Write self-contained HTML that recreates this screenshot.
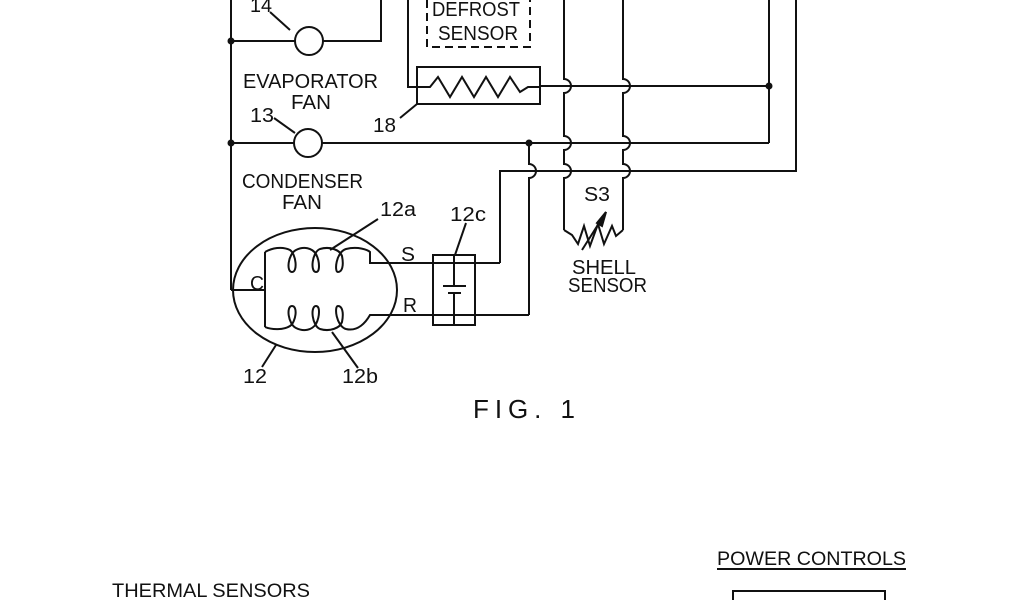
<!DOCTYPE html>
<html><head><meta charset="utf-8"><style>
html,body{margin:0;padding:0;background:#fff;}
svg{display:block;}
text{font-family:"Liberation Sans",sans-serif;fill:#111;}
</style></head><body>
<svg width="1024" height="600" viewBox="0 0 1024 600" xmlns="http://www.w3.org/2000/svg">
<g stroke="#111" stroke-width="2" fill="none">
<line x1="231" y1="0" x2="231" y2="290"/>
<line x1="231" y1="41" x2="295" y2="41"/>
<circle cx="309" cy="41" r="14"/>
<polyline points="323,41 381,41 381,0"/>
<line x1="290" y1="30" x2="270" y2="12"/>
<path d="M427,0 L427,47 L530,47 L530,0" stroke-dasharray="8,5"/>
<polyline points="408,0 408,87 417,87"/>
<rect x="417" y="67" width="123" height="37"/>
<polyline points="417,87 430,87 438,77 450,97 462,77 474,97 486,77 498,97 510,77 520,92 528,87 540,87"/>
<line x1="417" y1="104" x2="400" y2="118"/>
<line x1="540" y1="86" x2="769" y2="86"/>
<line x1="769" y1="0" x2="769" y2="143"/>
<line x1="231" y1="143" x2="294" y2="143"/>
<circle cx="308" cy="143" r="14"/>
<line x1="295" y1="133" x2="274" y2="118"/>
<line x1="322" y1="143" x2="769" y2="143"/>
<polyline points="796,0 796,171 500,171 500,263"/>
<!-- verticals with jumps bulging right -->
<path d="M564,0 L564,79 A7,7 0 0 1 564,93 L564,136 A7,7 0 0 1 564,150 L564,164 A7,7 0 0 1 564,178 L564,230"/>
<path d="M623,0 L623,79 A7,7 0 0 1 623,93 L623,136 A7,7 0 0 1 623,150 L623,164 A7,7 0 0 1 623,178 L623,230"/>
<polyline points="564,230 572,235 578,244 584,226 590,246 598,224 604,244 612,226 616,236 623,230"/>
<line x1="582" y1="250" x2="606" y2="212"/>
<path d="M606,212 L597,223 L602,226 Z" fill="#111"/>
<path d="M529,143 L529,164 A7,7 0 0 1 529,178 L529,315"/>
<ellipse cx="315" cy="290" rx="82" ry="62"/>
<polyline points="231,290 265,290"/>
<line x1="265" y1="252" x2="265" y2="327"/>
<path d="M265,252 C272,248 282,246 290,250 C296,254 298,272 292,272 C286,272 288,254 296,250 C304,246 312,248 316,254 C320,262 320,272 316,272 C310,272 312,252 320,249 C330,246 340,250 342,256 C344,266 342,272 338,272 C334,272 336,252 346,249 C358,246 368,250 370,252 L370,263 L500,263"/>
<path d="M265,327 C272,330 284,330 290,326 C296,322 298,306 292,306 C286,306 288,324 296,328 C304,332 312,330 316,324 C320,316 320,306 316,306 C310,306 312,326 320,329 C330,332 340,328 342,322 C344,312 342,306 338,306 C334,306 336,326 346,329 C358,332 366,322 370,315 L529,315"/>
<rect x="433" y="255" width="42" height="70"/>
<line x1="454" y1="255" x2="454" y2="286"/>
<line x1="443" y1="286" x2="466" y2="286"/>
<line x1="448" y1="293" x2="461" y2="293"/>
<line x1="454" y1="293" x2="454" y2="325"/>
<line x1="378" y1="219" x2="330" y2="250"/>
<line x1="466" y1="223" x2="455" y2="255"/>
<line x1="262" y1="367" x2="276" y2="345"/>
<line x1="358" y1="368" x2="332" y2="332"/>
<path d="M733,600 L733,591 L885,591 L885,600"/>
<line x1="717" y1="569" x2="906" y2="569"/>
</g>
<g fill="#111">
<circle cx="231" cy="41" r="3.5"/>
<circle cx="231" cy="143" r="3.5"/>
<circle cx="769" cy="86" r="3.5"/>
<circle cx="529" cy="143" r="3.5"/>
</g>
<g font-size="20">
<text x="250" y="12" textLength="22" lengthAdjust="spacingAndGlyphs">14</text>
<text x="432" y="16" textLength="88" lengthAdjust="spacingAndGlyphs">DEFROST</text>
<text x="438" y="40" textLength="80" lengthAdjust="spacingAndGlyphs">SENSOR</text>
<text x="243" y="88" textLength="135" lengthAdjust="spacingAndGlyphs">EVAPORATOR</text>
<text x="291" y="109" textLength="40" lengthAdjust="spacingAndGlyphs">FAN</text>
<text x="250" y="122" textLength="24" lengthAdjust="spacingAndGlyphs">13</text>
<text x="373" y="132" textLength="23" lengthAdjust="spacingAndGlyphs">18</text>
<text x="242" y="188" textLength="121" lengthAdjust="spacingAndGlyphs">CONDENSER</text>
<text x="282" y="209" textLength="40" lengthAdjust="spacingAndGlyphs">FAN</text>
<text x="380" y="216" textLength="36" lengthAdjust="spacingAndGlyphs">12a</text>
<text x="450" y="221" textLength="36" lengthAdjust="spacingAndGlyphs">12c</text>
<text x="584" y="201" textLength="26" lengthAdjust="spacingAndGlyphs">S3</text>
<text x="401" y="261" textLength="14" lengthAdjust="spacingAndGlyphs">S</text>
<text x="403" y="312" textLength="14" lengthAdjust="spacingAndGlyphs">R</text>
<text x="250" y="290" textLength="14" lengthAdjust="spacingAndGlyphs">C</text>
<text x="572" y="274" textLength="64" lengthAdjust="spacingAndGlyphs">SHELL</text>
<text x="568" y="292" textLength="79" lengthAdjust="spacingAndGlyphs">SENSOR</text>
<text x="243" y="383" textLength="24" lengthAdjust="spacingAndGlyphs">12</text>
<text x="342" y="383" textLength="36" lengthAdjust="spacingAndGlyphs">12b</text>
<text x="473" y="418" textLength="102" lengthAdjust="spacing" font-size="26" font-family="Liberation Mono">FIG. 1</text>
<text x="717" y="565" textLength="189" lengthAdjust="spacingAndGlyphs" font-size="19">POWER CONTROLS</text>
<text x="112" y="597" textLength="198" lengthAdjust="spacingAndGlyphs" font-size="19">THERMAL SENSORS</text>
</g>
</svg>
</body></html>
